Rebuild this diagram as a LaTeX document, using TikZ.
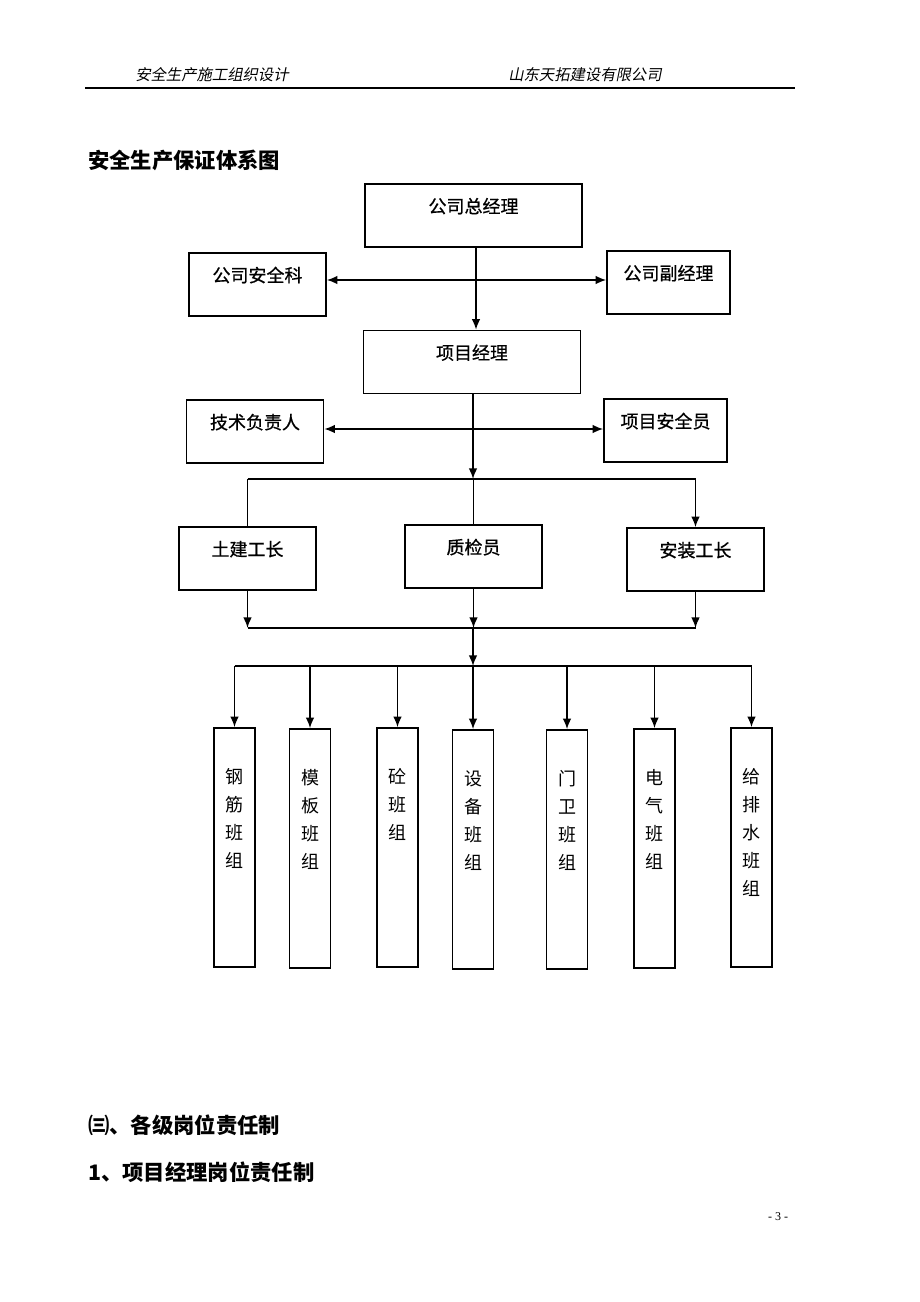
\documentclass[tikz,border=0pt]{standalone}
\usepackage{fontspec}
\usepackage{tikz}
\usetikzlibrary{arrows,arrows.meta,positioning,shapes}
\newfontfamily\cjk{Noto Sans CJK SC}
\newfontfamily\cjkbox[FakeBold=0.6]{Noto Sans CJK SC}
\newfontfamily\cjkhead[FakeSlant=0.2]{Noto Sans CJK SC}
\newfontfamily\pagenum{Liberation Serif}

\begin{document}
\begin{tikzpicture}[x=0.75pt,y=0.75pt,
            box/.style={draw,rectangle,line width=1.2pt,inner sep=0pt,minimum height=63*0.75pt,
              text height=21.75pt,text depth=25.5pt,font=\cjkbox\fontsize{13.5}{16}\selectfont},
            wbox/.style={box,minimum width=217*0.75pt},
            sbox/.style={box,minimum width=137*0.75pt},
            nbox/.style={box,minimum width=123*0.75pt},
            team/.style={draw,rectangle,line width=1.2pt,minimum width=41*0.75pt,minimum height=239*0.75pt},
            teamlab/.style={align=center,inner sep=0pt,font=\cjk\fontsize{13.5}{21}\selectfont},
            txt/.style={anchor=west,inner sep=0pt},
            heading/.style={txt,font=\cjk\bfseries\fontsize{16}{19}\selectfont},
            link/.style={draw,line width=1.2pt},
            arr/.style={link,-{Latex[length=8pt,width=6.5pt]}},
            twoway/.style={link,{Latex[length=8pt,width=6.5pt]}-{Latex[length=8pt,width=6.5pt]}}
          ]
          \fill[white] (0,0) rectangle (920,-1302);
          \useasboundingbox (0,0) rectangle (920,-1302);

          %page header
          \node[txt,font=\cjkhead\fontsize{11.5}{14}\selectfont] (hl) at (135,-75) {安全生产施工组织设计};
          \node[txt,font=\cjkhead\fontsize{11.5}{14}\selectfont] (hr) at (508,-75) {山东天拓建设有限公司};
          \draw[line width=1.5pt] (85,-88) -- (795,-88);

          \node[heading] (title) at (88,-160) {安全生产保证体系图};

          %company level
          \node[wbox] (zjl) at (473.5,-215.5) {公司总经理};
          \node[sbox] (aqk) at (257.5,-284.5) {公司安全科};
          \node[nbox] (fjl) at (668.5,-282.5) {公司副经理};

          %project level
          \node[wbox] (xmjl) at (472,-362) {项目经理};
          \node[sbox] (jsfz) at (255,-431.5) {技术负责人};
          \node[nbox] (aqy) at (665.5,-430.5) {项目安全员};

          \node[sbox] (tj) at (247.5,-558.5) {土建工长};
          \node[sbox] (zj) at (473.5,-556.5) {质检员};
          \node[sbox] (az) at (695.5,-559.5) {安装工长};

          %junctions
          \coordinate (c1) at (476,-280);
          \coordinate (c2) at (473,-429);
          \coordinate (s1) at (473,-479);
          \coordinate (j1) at (473,-628);
          \coordinate (s2) at (473,-666);

          \path[twoway] (aqk.east |- c1) -- (fjl.west |- c1);
          \path[arr] (zjl.south -| c1) -- (xmjl.north -| c1);
          \path[twoway] (jsfz.east |- c2) -- (aqy.west |- c2);
          \path[arr] (xmjl.south -| s1) -- (s1);
          \path[link] (tj.north |- s1) -- (az.north |- s1);
          \path
          [arr] (tj.north |- s1) -- (tj.north)
          [arr] (zj.north |- s1) -- (zj.north)
          [arr] (az.north |- s1) -- (az.north)
          ;
          \path[arr] (tj.south) -- (tj.south |- j1);
          \path[arr] (zj.south) -- (zj.south |- j1);
          \path[arr] (az.south) -- (az.south |- j1);
          \path[link] (tj.south |- j1) -- (az.south |- j1);
          \path[arr] (j1) -- (s2);

          %teams
          \foreach \n/\x/\y/\t in {b1/234.5/847.5/{钢\\筋\\班\\组},
                                   b2/310/848.5/{模\\板\\班\\组},
                                   b3/397.5/847.5/{砼\\班\\组},
                                   b4/473/849.5/{设\\备\\班\\组},
                                   b5/567/849.5/{门\\卫\\班\\组},
                                   b6/654.5/848.5/{电\\气\\班\\组},
                                   b7/751.5/847.5/{给\\排\\水\\班\\组}}{
            \node[team] (\n) at (\x,-\y) {};
            \node[teamlab,below=30.75pt of \n.north] (\n-t) {\t};
            \path[arr] (\n.north |- s2) -- (\n.north);
          }
          \path[link] (b1.north |- s2) -- (b7.north |- s2);

          %text below
          \node[heading] (sec) at (88,-1125) {㈢、各级岗位责任制};
          \node[heading] (sub) at (88,-1172) {1、项目经理岗位责任制};
          \node[font=\pagenum\fontsize{9}{11}\selectfont,inner sep=0pt] (pg) at (778,-1217) {- 3 -};
      \end{tikzpicture}
\end{document}
